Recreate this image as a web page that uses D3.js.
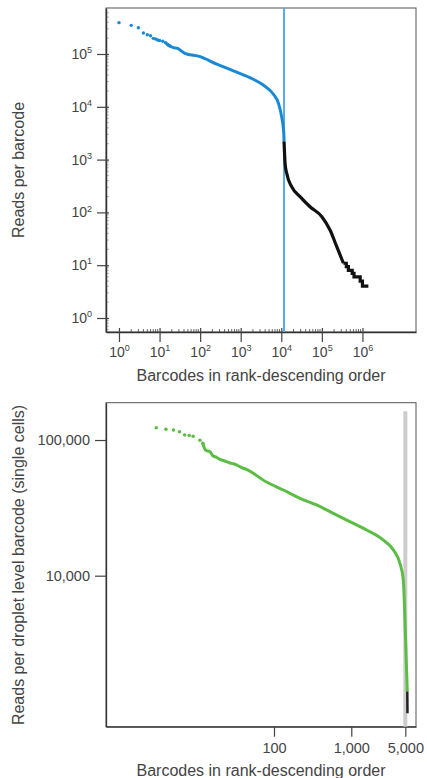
<!DOCTYPE html>
<html>
<head>
<meta charset="utf-8">
<script src="https://cdn.jsdelivr.net/npm/d3@7"></script>
<style>
  body { margin: 0; background: #fff; }
  text { font-family: "Liberation Sans", Arial, sans-serif; fill: #444; }
</style>
</head>
<body>
<div id="container"></div>
<script>
let w = 427;
let h = 778;

// TOP CHART DATA (all barcodes)
let cellRank = [1, 2, 3, 4, 5, 6, 7, 8, 9, 10, 12, 14, 16, 18, 22, 28, 32, 42, 100, 257, 660, 1700, 3600, 6400, 8500, 10200, 11500, 11700];
let cellReads = [392000, 349000, 315000, 250000, 232000, 222000, 198000, 192000, 184000, 180000, 174000, 164000, 150000, 142000, 132000, 128000, 119000, 103000, 89000, 64000, 48000, 35600, 25800, 17300, 11700, 6500, 3200, 2200];
let bgRank = [11700, 12400, 13600, 18000, 29000, 51000, 100000, 160000, 233000, 340000, 400000, 450000, 500000, 560000, 620000, 700000, 800000, 880000, 950000, 1000000, 1200000, 1400000];
let bgReads = [2200, 850, 550, 307, 199, 128, 83, 46, 22.4, 10.9, 9.4, 8, 8, 7, 6, 6, 6, 5, 5, 4, 4, 4];
let cutoffRank = 11700;
let topXTicks = [0, 1, 2, 3, 4, 5, 6];   // exponents
let topYTicks = [0, 1, 2, 3, 4, 5];

// BOTTOM CHART DATA (single cells)
let scRank = [3, 4, 5, 6, 7, 8, 9, 11, 12, 13, 15, 16, 18, 20, 23, 27, 30, 34, 38, 44, 80, 132, 217, 356, 585, 961, 1580, 2600, 3500, 4260, 4710, 4880, 5300];
let scReads = [123000, 120000, 118500, 115000, 109000, 108000, 106500, 99500, 94600, 84400, 81600, 77100, 74600, 72100, 70000, 67700, 66800, 64900, 62700, 60800, 49000, 42800, 37200, 33200, 28800, 25000, 21700, 18300, 15500, 12300, 9300, 5900, 1400];
let tailRank = [5300, 5330];
let tailReads = [1400, 970];
let scCutoff = 5000;
let scCutoffTop = 163000;
let botXTicks = [100, 1000, 5000];
let botYTicks = [10000, 100000];

let viz = d3.select("#container").append("svg")
    .attr("width", w)
    .attr("height", h);

// write "10" + superscript exponent into a tick label
function powerLabel(sel) {
  sel.each(function(d){
    let t = d3.select(this);
    let e = Math.round(Math.log10(d));
    t.text(null);
    t.append("tspan").attr("font-size", 14).text("10");
    t.append("tspan").attr("font-size", 9).attr("dy", "-0.65em").text(e);
  });
}

// ---------- TOP ----------
let x1 = d3.scaleLog().domain([Math.pow(10, -0.32), Math.pow(10, 7.32)]).range([106, 416]);
let y1 = d3.scaleLog().domain([Math.pow(10, -0.265), Math.pow(10, 5.871)]).range([332, 8]);

viz.append("rect").attr("x", 106).attr("y", 8).attr("width", 310).attr("height", 324)
  .attr("fill", "none").attr("stroke", "#555").attr("stroke-width", 1);

// minor ticks
let minors1x = [];
for (let e = 0; e <= 6; e++) for (let m = 2; m <= 9; m++) minors1x.push(m * Math.pow(10, e));
viz.selectAll(".mx1").data(minors1x.filter(d => x1(d) < 370)).enter().append("line")
  .attr("x1", d => x1(d)).attr("x2", d => x1(d)).attr("y1", 332).attr("y2", 329)
  .attr("stroke", "#444").attr("stroke-width", 0.8);
let minors1y = [];
for (let e = -1; e <= 5; e++) for (let m = 2; m <= 9; m++) minors1y.push(m * Math.pow(10, e));
viz.selectAll(".my1").data(minors1y.filter(d => y1(d) > 10 && y1(d) < 330)).enter().append("line")
  .attr("x1", 106).attr("x2", 109).attr("y1", d => y1(d)).attr("y2", d => y1(d))
  .attr("stroke", "#aaa").attr("stroke-width", 0.8);

let xAxis1 = viz.append("g").attr("transform", "translate(0,332)")
  .call(d3.axisBottom(x1).tickValues(topXTicks.map(e => Math.pow(10, e)))
    .tickSizeInner(10).tickSizeOuter(0).tickPadding(8));
let yAxis1 = viz.append("g").attr("transform", "translate(106,0)")
  .call(d3.axisLeft(y1).tickValues(topYTicks.map(e => Math.pow(10, e)))
    .tickSizeInner(9).tickSizeOuter(0).tickPadding(5));
[xAxis1, yAxis1].forEach(function(a){
  a.select(".domain").attr("stroke", "#333").attr("stroke-width", 1.5);
  a.selectAll(".tick line").attr("stroke", "#444").attr("stroke-width", 1.2);
  a.selectAll(".tick text").style("fill", "#444").call(powerLabel);
});
xAxis1.selectAll(".tick line").attr("y1", -4);
yAxis1.selectAll(".tick line").attr("x1", 3);
yAxis1.selectAll(".tick text").attr("dy", "0.45em");

viz.append("line").attr("x1", x1(cutoffRank)).attr("x2", x1(cutoffRank)).attr("y1", 8).attr("y2", 332)
  .attr("stroke", "#5aa9e4").attr("stroke-width", 2);

let line1 = d3.line().x(d => x1(d[0])).y(d => y1(d[1])).curve(d3.curveMonotoneX);
let line1b = d3.line().x(d => x1(d[0])).y(d => y1(d[1])).curve(d3.curveStepAfter);
let cellPts = d3.zip(cellRank, cellReads);
let bgPts = d3.zip(bgRank, bgReads);

viz.append("path").datum(cellPts.filter(d => d[0] >= 14))
  .attr("d", line1).attr("fill", "none").attr("stroke", "#1a89d5").attr("stroke-width", 3);
viz.selectAll(".cell").data(cellPts.filter(d => d[0] < 20)).enter().append("circle")
  .attr("cx", d => x1(d[0])).attr("cy", d => y1(d[1])).attr("r", 1.7).attr("fill", "#1a89d5");

viz.append("path").datum(bgPts.filter(d => d[0] <= 340000))
  .attr("d", line1).attr("fill", "none").attr("stroke", "#111").attr("stroke-width", 3.2);
viz.append("path").datum(bgPts.filter(d => d[0] >= 340000))
  .attr("d", line1b).attr("fill", "none").attr("stroke", "#111").attr("stroke-width", 3.2);

viz.append("text").attr("x", 261).attr("y", 381).attr("text-anchor", "middle").attr("font-size", 16)
  .text("Barcodes in rank-descending order");
viz.append("text").attr("transform", "translate(24,170) rotate(-90)").attr("text-anchor", "middle").attr("font-size", 16)
  .text("Reads per barcode");

// ---------- BOTTOM ----------
let x2 = d3.scaleLog().domain([Math.pow(10, -0.173), Math.pow(10, 3.837)]).range([106, 416]);
let y2 = d3.scaleLog().domain([Math.pow(10, 2.887), Math.pow(10, 5.275)]).range([726.7, 402.7]);

viz.append("rect").attr("x", 106).attr("y", 402.7).attr("width", 310).attr("height", 324)
  .attr("fill", "none").attr("stroke", "#555").attr("stroke-width", 1);

let xAxis2 = viz.append("g").attr("transform", "translate(0,726.7)")
  .call(d3.axisBottom(x2).tickValues(botXTicks).tickSizeInner(10).tickSizeOuter(0).tickPadding(6)
    .tickFormat(d3.format(",")));
let yAxis2 = viz.append("g").attr("transform", "translate(106,0)")
  .call(d3.axisLeft(y2).tickValues(botYTicks).tickSizeInner(11).tickSizeOuter(0).tickPadding(5)
    .tickFormat(d3.format(",")));
[xAxis2, yAxis2].forEach(function(a){
  a.select(".domain").attr("stroke", "#333").attr("stroke-width", 1.3);
  a.selectAll(".tick line").attr("stroke", "#444").attr("stroke-width", 1.2);
  a.selectAll(".tick text").attr("font-size", 14.5).style("fill", "#444");
});

viz.append("line").attr("x1", x2(scCutoff)).attr("x2", x2(scCutoff)).attr("y1", y2(scCutoffTop)).attr("y2", 726.7)
  .attr("stroke", "#cccccc").attr("stroke-width", 4);

let line2 = d3.line().x(d => x2(d[0])).y(d => y2(d[1])).curve(d3.curveMonotoneX);
let scPts = d3.zip(scRank, scReads);
viz.append("path").datum(scPts.filter(d => d[0] >= 12))
  .attr("d", line2).attr("fill", "none").attr("stroke", "#5cbd45").attr("stroke-width", 3);
viz.selectAll(".sc").data(scPts.filter(d => d[0] < 13)).enter().append("circle")
  .attr("cx", d => x2(d[0])).attr("cy", d => y2(d[1])).attr("r", 1.8).attr("fill", "#5cbd45");
viz.append("path").datum(d3.zip(tailRank, tailReads))
  .attr("d", d3.line().x(d => x2(d[0])).y(d => y2(d[1]))).attr("fill", "none").attr("stroke", "#222").attr("stroke-width", 2.5);

viz.append("text").attr("x", 261).attr("y", 776).attr("text-anchor", "middle").attr("font-size", 16)
  .text("Barcodes in rank-descending order");
viz.append("text").attr("transform", "translate(24,565) rotate(-90)").attr("text-anchor", "middle").attr("font-size", 16)
  .text("Reads per droplet level barcode (single cells)");
</script>
</body>
</html>
